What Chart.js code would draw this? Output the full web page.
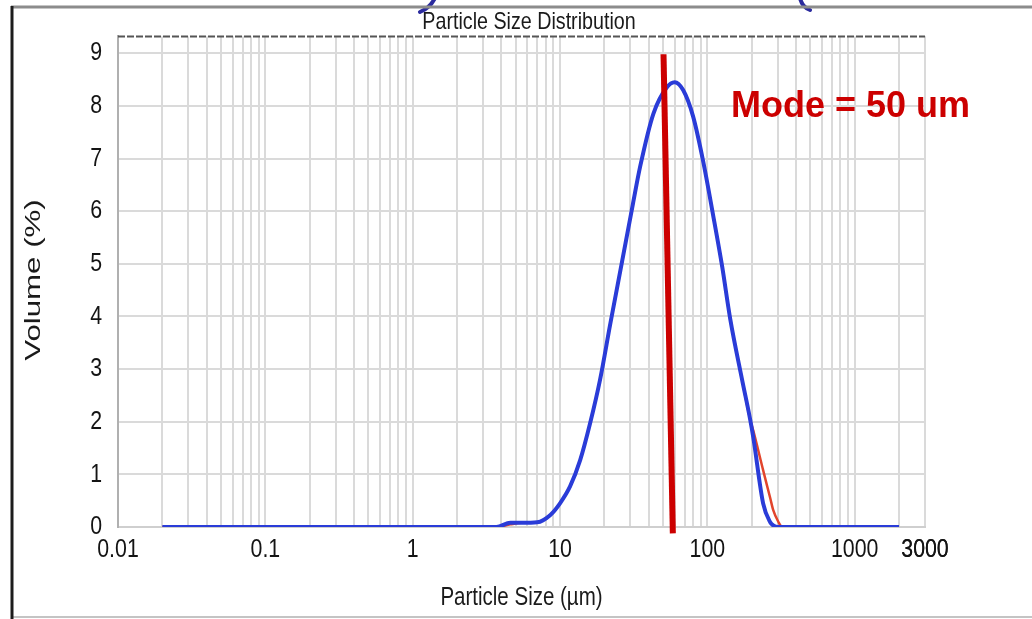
<!DOCTYPE html>
<html>
<head>
<meta charset="utf-8">
<script src="https://cdn.jsdelivr.net/npm/chart.js@4.4.1/dist/chart.umd.min.js"></script>
<style>
  html, body { margin: 0; padding: 0; background: #ffffff; }
  #wrap { width: 1032px; height: 619px; }
</style>
</head>
<body>
<div id="wrap"><canvas id="c" width="1032" height="619"></canvas></div>
<script>
// ---- Data ----
const sizes = [0.02, 0.1, 1, 3.7, 4.6, 5.5, 7, 8.6, 10, 11.7, 13.7, 16, 18.7, 21.9, 26.4, 31.3, 35, 43, 53, 60, 68.5, 80, 93.6, 109, 126, 143, 172, 195, 205, 239, 267, 280, 303, 322, 500, 1000, 2000];
const volumeBlue = [0, 0, 0, 0, 0.08, 0.08, 0.09, 0.23, 0.45, 0.77, 1.27, 1.97, 2.8, 3.85, 5.05, 6.15, 6.85, 7.85, 8.35, 8.45, 8.3, 7.8, 6.95, 5.95, 4.95, 3.95, 2.8, 2.05, 1.7, 0.45, 0.09, 0.03, 0, 0, 0, 0, 0];
const volumeRed  = [0, 0, 0, 0, 0.05, 0.08, 0.09, 0.23, 0.45, 0.77, 1.27, 1.97, 2.8, 3.85, 5.05, 6.15, 6.85, 7.85, 8.35, 8.45, 8.3, 7.8, 6.95, 5.95, 4.95, 3.95, 2.8, 2.05, 1.83, 1.08, 0.55, 0.32, 0.1, 0, 0, 0, 0];
const modeSizes = [50.4, 58.3];
const modeVolume = [8.98, -0.12];
const xTickValues = [0.01, 0.1, 1, 10, 100, 1000, 3000];
const xTickLabels = ['0.01', '0.1', '1', '10', '100', '1000', '3000'];
const yTickValues = [0, 1, 2, 3, 4, 5, 6, 7, 8, 9];
const chartTitle = 'Particle Size Distribution';
const xTitle = 'Particle Size (\u00b5m)';
const yTitle = 'Volume (%)';
const modeText = 'Mode = 50 um';

// grid positions (log minor lines)
const xGridValues = [];
[0.01, 0.1, 1, 10, 100, 1000].forEach(d => {
  for (let m = 1; m <= 9; m++) {
    const v = +(d * m).toPrecision(6);
    if (v <= 3000) xGridValues.push(v);
  }
});
xGridValues.push(3000);

const labelMap = {};
xTickValues.forEach((v, i) => { labelMap[String(v)] = xTickLabels[i]; });

const toPts = (xs, ys) => xs.map((x, i) => ({ x: x, y: ys[i] }));

// The scanned chart uses tall, condensed lettering: text set in the
// "Narrow" family list is drawn horizontally condensed.
const NARROW = "'Arial Narrow', 'Liberation Sans', Arial, sans-serif";
const canvas = document.getElementById('c');
const ctx2d = canvas.getContext('2d');
const origFill = ctx2d.fillText;
ctx2d.fillText = function (text, x, y, maxWidth) {
  if (String(this.font).indexOf('Narrow') >= 0) {
    this.save();
    this.translate(x, y);
    this.scale(0.82, 1);
    if (maxWidth !== undefined && maxWidth !== null) origFill.call(this, text, 0, 0, maxWidth / 0.82);
    else origFill.call(this, text, 0, 0);
    this.restore();
  } else {
    if (maxWidth !== undefined && maxWidth !== null) origFill.call(this, text, x, y, maxWidth);
    else origFill.call(this, text, x, y);
  }
};

const decor = {
  id: 'decor',
  beforeDraw(chart) {
    const ctx = chart.ctx;
    ctx.save();
    ctx.fillStyle = '#ffffff';
    ctx.fillRect(0, 0, chart.width, chart.height);
    // fragments of slide text above the frame
    ctx.strokeStyle = '#2b2b9e';
    ctx.lineWidth = 4;
    ctx.lineCap = 'round';
    ctx.beginPath();
    ctx.moveTo(435, -2);
    ctx.quadraticCurveTo(430, 8, 420, 12);
    ctx.stroke();
    ctx.beginPath();
    ctx.moveTo(800, -2);
    ctx.quadraticCurveTo(802, 7, 810, 10);
    ctx.stroke();
    ctx.lineCap = 'butt';
    // frame
    ctx.strokeStyle = '#8c8c8c';
    ctx.lineWidth = 3;
    ctx.beginPath(); ctx.moveTo(11, 7); ctx.lineTo(1032, 7); ctx.stroke();
    ctx.strokeStyle = '#c4c4c4';
    ctx.lineWidth = 2;
    ctx.beginPath(); ctx.moveTo(11, 617); ctx.lineTo(1032, 617); ctx.stroke();
    ctx.strokeStyle = '#1c1c1c';
    ctx.lineWidth = 3;
    ctx.beginPath(); ctx.moveTo(12, 6); ctx.lineTo(12, 619); ctx.stroke();
    ctx.restore();
  },
  afterDraw(chart) {
    const ctx = chart.ctx;
    const a = chart.chartArea;
    ctx.save();
    // top border of plot (dark dashed)
    ctx.strokeStyle = '#555555';
    ctx.lineWidth = 2;
    ctx.setLineDash([7, 2]);
    ctx.beginPath(); ctx.moveTo(a.left, a.top); ctx.lineTo(a.right, a.top); ctx.stroke();
    ctx.setLineDash([]);
    // y axis title (stretched as in the scanned picture)
    ctx.translate(34, 280);
    ctx.rotate(-Math.PI / 2);
    ctx.scale(1.42, 1);
    ctx.fillStyle = '#1a1a1a';
    ctx.font = "22px 'Liberation Sans', Arial, sans-serif";
    ctx.textAlign = 'center';
    ctx.textBaseline = 'middle';
    ctx.fillText(yTitle, 0, 0);
    ctx.restore();
    // mode label
    ctx.save();
    ctx.fillStyle = '#cc0000';
    ctx.font = "bold 36px 'Liberation Sans', Arial, sans-serif";
    ctx.textAlign = 'left';
    ctx.textBaseline = 'alphabetic';
    ctx.fillText(modeText, 731, 117);
    ctx.restore();
  }
};

new Chart(canvas, {
  type: 'line',
  data: {
    datasets: [
      {
        label: 'Mode',
        data: toPts(modeSizes, modeVolume),
        borderColor: '#cc0000',
        borderWidth: 6,
        pointRadius: 0,
        tension: 0,
        clip: false,
        borderCapStyle: 'butt'
      },
      {
        label: 'Blue',
        data: toPts(sizes, volumeBlue),
        borderColor: '#2a3cd8',
        borderWidth: 4,
        pointRadius: 0,
        cubicInterpolationMode: 'monotone'
      },
      {
        label: 'Red',
        data: toPts(sizes, volumeRed),
        borderColor: '#e2452c',
        borderWidth: 2.5,
        pointRadius: 0,
        cubicInterpolationMode: 'monotone'
      }
    ]
  },
  options: {
    responsive: false,
    devicePixelRatio: 1,
    animation: false,
    layout: { padding: { left: 26, right: 0, top: 0, bottom: 0 } },
    plugins: {
      legend: { display: false },
      tooltip: { enabled: false },
      title: {
        display: true,
        text: chartTitle,
        color: '#1a1a1a',
        font: { family: NARROW, size: 24, weight: 'normal', lineHeight: 1.2 },
        padding: { top: 7.6, bottom: 0 }
      }
    },
    scales: {
      x: {
        type: 'logarithmic',
        position: 'bottom',
        min: 0.01,
        max: 3000,
        afterBuildTicks: (s) => { s.ticks = xGridValues.map(v => ({ value: v })); },
        afterFit: (s) => { s.height = 92; },
        grid: { color: '#dadada', lineWidth: 2, drawTicks: false },
        border: { display: true, color: '#cfcfcf', width: 2 },
        ticks: {
          autoSkip: false,
          maxRotation: 0,
          minRotation: 0,
          padding: 7,
          color: '#141414',
          font: { family: NARROW, size: 26, lineHeight: 1.2 },
          callback: (value) => labelMap[String(value)] || ''
        },
        title: {
          display: true,
          text: xTitle,
          color: '#1a1a1a',
          font: { family: NARROW, size: 25, lineHeight: 1.2 },
          padding: { top: 0, bottom: 6 }
        }
      },
      y: {
        type: 'linear',
        position: 'left',
        min: 0,
        max: 9.32,
        bounds: 'data',
        afterBuildTicks: (s) => { s.ticks = yTickValues.map(v => ({ value: v })); },
        afterFit: (s) => { s.width = 92; },
        grid: { color: '#dadada', lineWidth: 2, drawTicks: false },
        border: { display: true, color: '#b0b0b0', width: 2 },
        ticks: {
          padding: 16,
          color: '#141414',
          font: { family: NARROW, size: 26, lineHeight: 1.2 }
        },
        title: { display: false }
      },
      yRight: {
        type: 'linear',
        position: 'right',
        min: 0,
        max: 1,
        display: true,
        afterFit: (s) => { s.width = 107; },
        grid: { display: false, drawTicks: false },
        border: { display: false },
        ticks: { display: false }
      }
    }
  },
  plugins: [decor]
});
</script>
</body>
</html>
